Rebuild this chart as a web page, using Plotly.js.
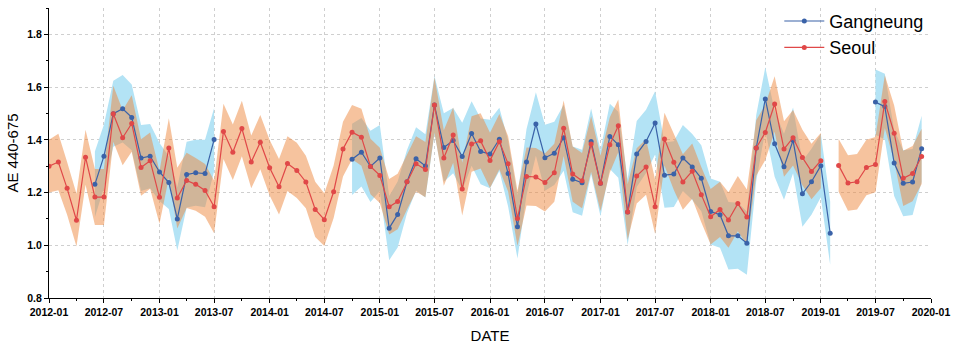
<!DOCTYPE html>
<html>
<head>
<meta charset="utf-8">
<script src="https://cdn.plot.ly/plotly-3.0.1.min.js"></script>
<style>html,body{margin:0;padding:0;background:#fff;}#chart{width:954px;height:344px;}</style>
</head>
<body>
<div id="chart"></div>
<script>
// Monthly dates 2012-01 .. 2019-12
var months = [
"2012-01","2012-02","2012-03","2012-04","2012-05","2012-06","2012-07","2012-08","2012-09","2012-10","2012-11","2012-12",
"2013-01","2013-02","2013-03","2013-04","2013-05","2013-06","2013-07","2013-08","2013-09","2013-10","2013-11","2013-12",
"2014-01","2014-02","2014-03","2014-04","2014-05","2014-06","2014-07","2014-08","2014-09","2014-10","2014-11","2014-12",
"2015-01","2015-02","2015-03","2015-04","2015-05","2015-06","2015-07","2015-08","2015-09","2015-10","2015-11","2015-12",
"2016-01","2016-02","2016-03","2016-04","2016-05","2016-06","2016-07","2016-08","2016-09","2016-10","2016-11","2016-12",
"2017-01","2017-02","2017-03","2017-04","2017-05","2017-06","2017-07","2017-08","2017-09","2017-10","2017-11","2017-12",
"2018-01","2018-02","2018-03","2018-04","2018-05","2018-06","2018-07","2018-08","2018-09","2018-10","2018-11","2018-12",
"2019-01","2019-02","2019-03","2019-04","2019-05","2019-06","2019-07","2019-08","2019-09","2019-10","2019-11","2019-12"];

// Gangneung mean AE 440-675
var gangneung = [
null,null,null,null,null,1.231,1.338,1.499,1.518,1.485,1.331,1.338,
1.278,1.238,1.100,1.268,1.275,1.272,1.401,null,null,null,null,null,
null,null,null,null,null,null,null,null,null,1.326,1.353,1.299,
1.331,1.065,1.117,1.241,1.328,1.301,1.532,1.371,1.397,1.337,1.424,1.356,
1.346,1.402,1.272,1.070,1.316,1.460,1.332,1.349,1.408,1.250,1.237,1.394,
1.235,1.413,1.381,1.126,1.346,1.394,1.464,1.266,1.270,1.331,1.297,1.254,
1.128,1.116,1.036,1.036,1.008,1.369,1.555,1.385,1.298,1.398,1.195,1.241,
1.302,1.046,null,null,null,null,1.543,1.526,1.312,1.235,1.240,1.366];
// Gangneung spread (half-width of shaded band)
var gangneungSd = [
null,null,null,null,null,0.125,0.12,0.125,0.128,0.125,0.125,0.122,
0.11,0.1,0.12,0.125,0.125,0.128,0.12,null,null,null,null,null,
null,null,null,null,null,null,null,null,null,0.135,0.13,0.135,
0.125,0.122,0.125,0.12,0.12,0.12,0.11,0.13,0.124,0.128,0.122,0.125,
0.13,0.12,0.125,0.12,0.125,0.12,0.125,0.12,0.125,0.125,0.125,0.125,
0.125,0.124,0.125,0.125,0.125,0.12,0.12,0.124,0.125,0.125,0.125,0.125,
0.125,0.125,0.128,0.125,0.12,0.125,0.12,0.125,0.125,0.125,0.125,0.125,
0.12,0.12,null,null,null,null,0.124,0.125,0.125,0.125,0.125,0.125];

// Seoul mean AE 440-675
var seoul = [
1.300,1.316,1.216,1.095,1.334,1.183,1.183,1.499,1.408,1.462,1.295,1.321,
1.182,1.369,1.179,1.246,1.231,1.208,1.146,1.432,1.353,1.443,1.316,1.391,
1.294,1.222,1.310,1.284,1.240,1.136,1.097,1.203,1.365,1.429,1.410,1.299,
1.265,1.146,1.166,1.241,1.309,1.287,1.532,1.331,1.418,1.213,1.384,1.396,
1.322,1.393,1.309,1.102,1.261,1.259,1.238,1.275,1.444,1.270,1.245,1.384,
1.235,1.381,1.453,1.126,1.263,1.297,1.146,1.403,1.315,1.240,1.281,1.192,
1.108,1.136,1.096,1.158,1.107,1.369,1.428,1.536,1.365,1.408,1.333,1.280,
1.321,null,1.303,1.236,1.241,1.295,1.306,1.545,1.425,1.254,1.272,1.337];
// Seoul spread (half-width of shaded band)
var seoulSd = [
0.10,0.107,0.10,0.10,0.104,0.106,0.106,0.106,0.104,0.107,0.107,0.107,
0.10,0.113,0.115,0.105,0.10,0.10,0.10,0.105,0.105,0.105,0.10,0.103,
0.105,0.105,0.104,0.105,0.10,0.105,0.10,0.10,0.104,0.103,0.108,0.105,
0.105,0.105,0.105,0.105,0.105,0.105,0.105,0.105,0.105,0.10,0.105,0.105,
0.105,0.105,0.105,0.105,0.11,0.11,0.11,0.11,0.105,0.105,0.105,0.105,
0.105,0.105,0.10,0.105,0.105,0.105,0.103,0.10,0.105,0.105,0.105,0.105,
0.105,0.105,0.105,0.105,0.105,0.105,0.105,0.105,0.105,0.105,0.105,0.105,
0.105,null,0.10,0.105,0.105,0.105,0.105,0.10,0.105,0.105,0.105,0.105];

var seriesNames = ["Gangneung", "Seoul"];

function bandTraces(vals, sd, color) {
  var out = [];
  var run = [];
  function flush() {
    if (run.length) {
      var xs = run.map(function(i){return months[i];});
      var up = run.map(function(i){return vals[i] + sd[i];});
      var lo = run.map(function(i){return vals[i] - sd[i];});
      out.push({
        x: xs.concat(xs.slice().reverse()),
        y: up.concat(lo.slice().reverse()),
        type: "scatter", mode: "lines", fill: "toself",
        fillcolor: color, line: {width: 0, color: "rgba(0,0,0,0)"},
        hoverinfo: "skip", showlegend: false
      });
    }
    run = [];
  }
  for (var i = 0; i < vals.length; i++) {
    if (vals[i] === null) flush(); else run.push(i);
  }
  flush();
  return out;
}

var traces = [];
traces = traces.concat(bandTraces(gangneung, gangneungSd, "rgb(179,227,245)"));
traces = traces.concat(bandTraces(seoul, seoulSd, "rgba(238,136,62,0.5)"));
traces.push({
  x: months, y: gangneung, name: seriesNames[0], type: "scatter", mode: "lines+markers",
  line: {color: "#3a62a8", width: 1.2}, marker: {color: "#3a62a8", size: 5},
  connectgaps: false
});
traces.push({
  x: months, y: seoul, name: seriesNames[1], type: "scatter", mode: "lines+markers",
  line: {color: "#e04848", width: 1.2}, marker: {color: "#e04848", size: 5},
  connectgaps: false
});

var tickFont = {family: "Arial, 'Liberation Sans', sans-serif", size: 10.5, color: "#000", weight: "bold"};
var layout = {
  width: 954, height: 344,
  margin: {l: 49, r: 23, t: 3, b: 46},
  paper_bgcolor: "#fff", plot_bgcolor: "#fff",
  font: {family: "Arial, 'Liberation Sans', sans-serif", color: "#000"},
  showlegend: true,
  legend: {
    x: 0.828, y: 1.018, xanchor: "left", yanchor: "top",
    font: {size: 18, family: "Arial, 'Liberation Sans', sans-serif", color: "#000"},
    bgcolor: "rgba(255,255,255,0)", itemwidth: 40, tracegroupgap: 0
  },
  xaxis: {
    type: "date",
    range: ["2012-01-01", "2020-01-01"],
    tick0: "2012-01-01", dtick: "M6", tickformat: "%Y-%m",
    showgrid: true, gridcolor: "#cfcfcf", griddash: "dot", gridwidth: 1,
    showline: true, linecolor: "#000", linewidth: 1,
    ticks: "outside", ticklen: 4, tickcolor: "#000",
    minor: {dtick: "M3", ticks: "outside", ticklen: 2, tickcolor: "#000", showgrid: false},
    tickfont: tickFont, zeroline: false,
    title: {text: "DATE", font: {size: 15, family: "Arial, 'Liberation Sans', sans-serif"}, standoff: 16}
  },
  yaxis: {
    range: [0.8, 1.9], dtick: 0.2, tick0: 0.8, tickformat: ".1f",
    showgrid: true, gridcolor: "#cfcfcf", griddash: "dot", gridwidth: 1,
    showline: true, linecolor: "#000", linewidth: 1,
    ticks: "outside", ticklen: 4, tickcolor: "#000",
    minor: {dtick: 0.1, ticks: "outside", ticklen: 2, tickcolor: "#000", showgrid: false},
    tickfont: tickFont, zeroline: false,
    title: {text: "AE 440-675", font: {size: 15, family: "Arial, 'Liberation Sans', sans-serif"}, standoff: 5}
  }
};

Plotly.newPlot("chart", traces, layout, {displayModeBar: false, staticPlot: true});
</script>
</body>
</html>
